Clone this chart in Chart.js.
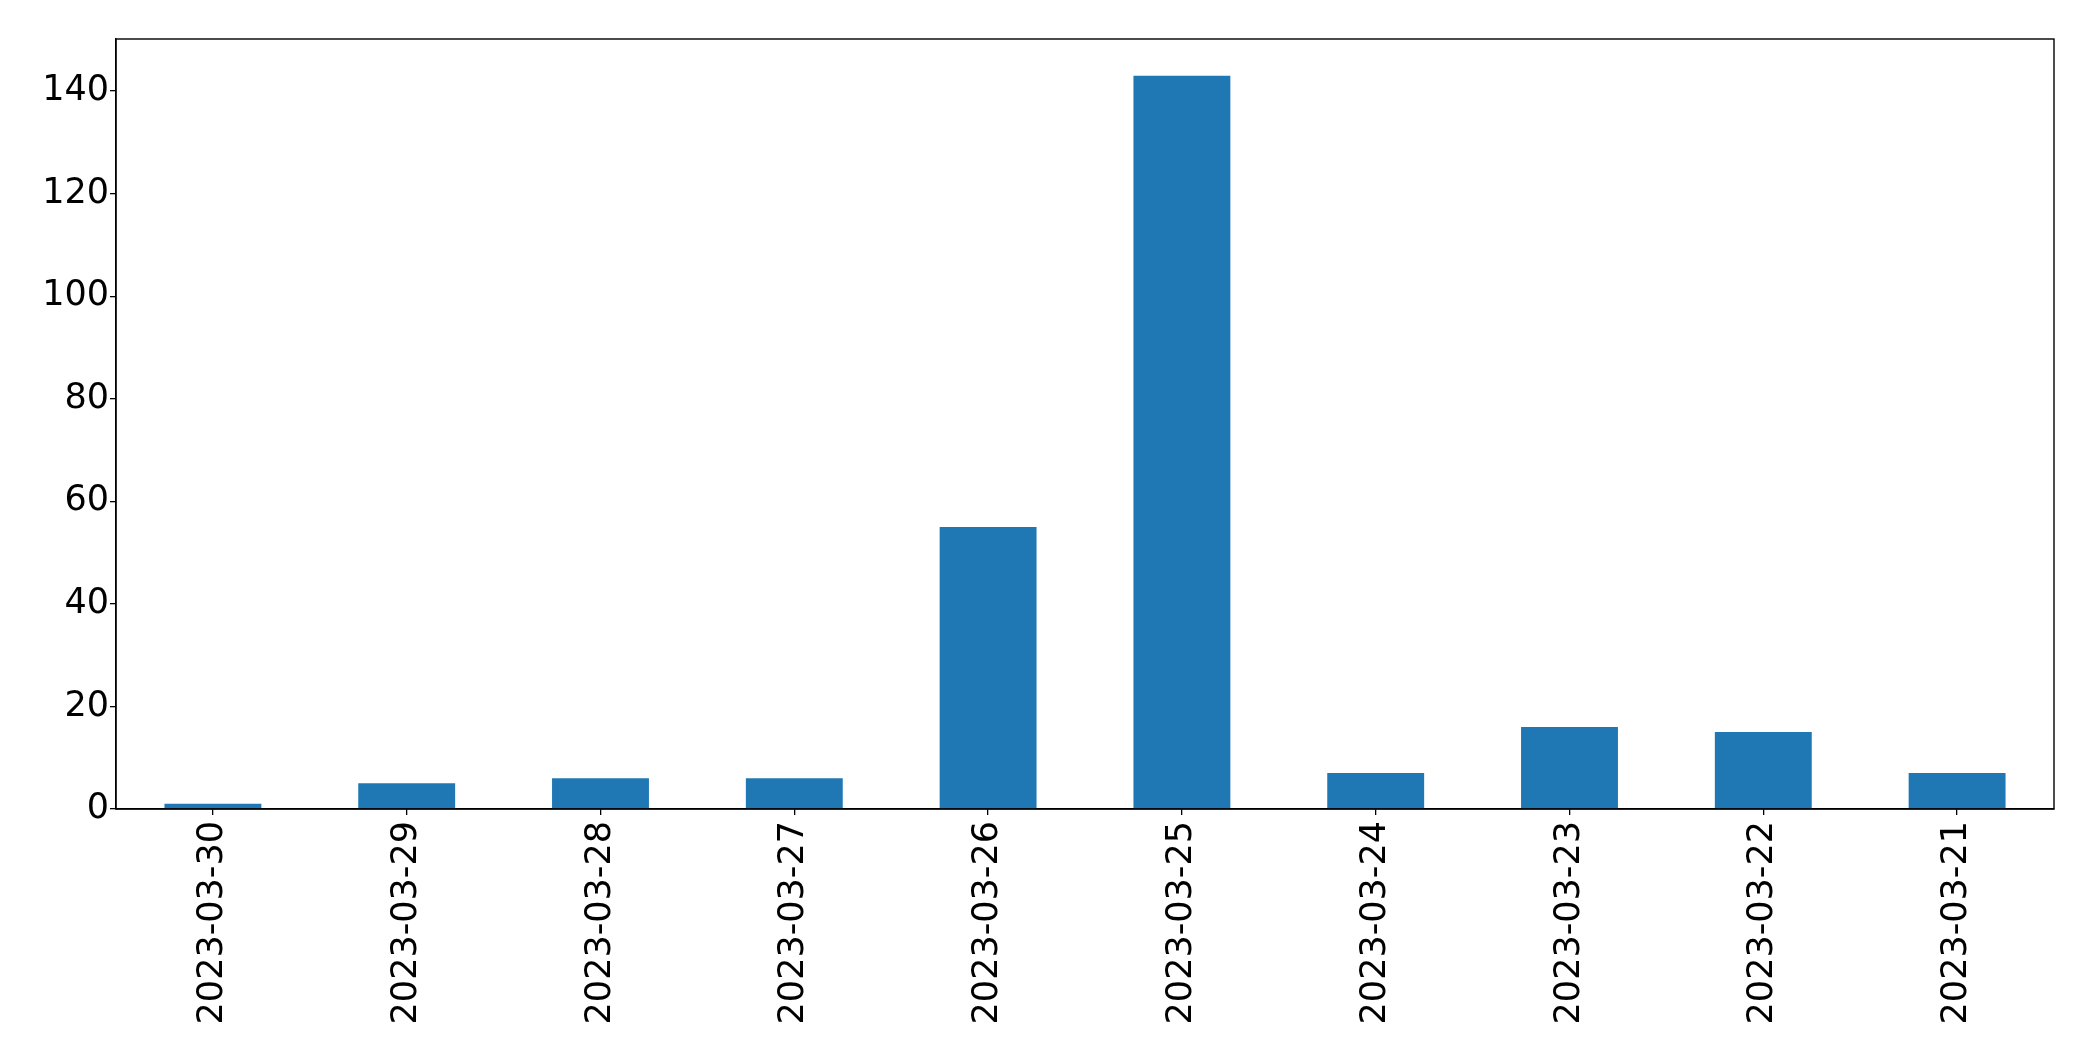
<!DOCTYPE html>
<html>
<head>
<meta charset="utf-8">
<script src="https://cdn.jsdelivr.net/npm/chart.js@4"></script>
<style>
  html, body { margin: 0; padding: 0; background: #fff; }
  #wrap { width: 2093px; height: 1061px; }
</style>
</head>
<body>
<div id="wrap"><canvas id="c" width="2093" height="1061"></canvas></div>
<script>
const categories = ["2023-03-30", "2023-03-29", "2023-03-28", "2023-03-27", "2023-03-26", "2023-03-25", "2023-03-24", "2023-03-23", "2023-03-22", "2023-03-21"];
const values = [1, 5, 6, 6, 55, 143, 7, 16, 15, 7];
const yTickStep = 20;
const barColor = "#1f77b4";

const yMax = Math.max(...values) * 1.05;
const tickFont = { family: "'DejaVu Sans'", size: 35 };

const framePlugin = {
  id: 'frame',
  afterDraw(chart) {
    const { ctx, chartArea: a } = chart;
    ctx.save();
    ctx.strokeStyle = '#000';
    ctx.lineWidth = 1.4;
    ctx.strokeRect(a.left, a.top, a.right - a.left, a.bottom - a.top);
    ctx.restore();
  }
};

new Chart(document.getElementById('c'), {
  type: 'bar',
  data: {
    labels: categories,
    datasets: [{
      data: values,
      backgroundColor: barColor,
      borderWidth: 0,
      categoryPercentage: 1.0,
      barPercentage: 0.5
    }]
  },
  options: {
    responsive: false,
    animation: false,
    devicePixelRatio: 1,
    layout: { padding: { top: 39, right: 39, left: 0, bottom: 0 } },
    plugins: { legend: { display: false }, tooltip: { enabled: false } },
    scales: {
      x: {
        offset: true,
        grid: { display: true, offset: false, drawOnChartArea: false, drawTicks: true, tickLength: 6, color: '#000', lineWidth: 1.3 },
        border: { display: true, color: '#000', width: 1.4 },
        ticks: {
          minRotation: 90, maxRotation: 90, autoSkip: false,
          color: '#000', padding: 6,
          font: tickFont
        },
        afterFit(scale) { scale.height = 252; }
      },
      y: {
        min: 0,
        max: yMax,
        grid: { display: true, drawOnChartArea: false, drawTicks: true, tickLength: 6, color: '#000', lineWidth: 1.3 },
        border: { display: true, color: '#000', width: 1.4 },
        ticks: {
          stepSize: yTickStep,
          color: '#000', padding: 1,
          font: tickFont
        },
        afterBuildTicks(scale) {
          scale.ticks = scale.ticks.filter(t => Math.abs(t.value / yTickStep - Math.round(t.value / yTickStep)) < 1e-9);
        },
        afterFit(scale) { scale.width = 116; }
      }
    }
  },
  plugins: [framePlugin]
});
</script>
</body>
</html>
